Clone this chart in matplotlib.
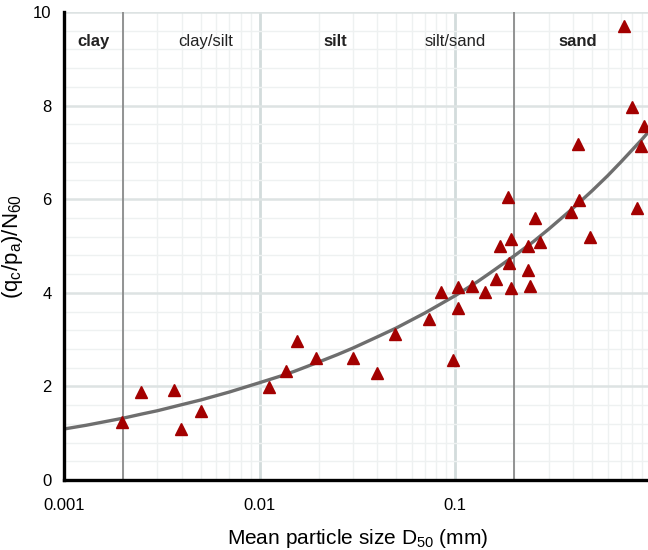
import numpy as np
import matplotlib
matplotlib.use("Agg")
from matplotlib import pyplot as plt
from matplotlib.ticker import FixedLocator, NullFormatter

plt.rcParams['font.family'] = ['Liberation Sans', 'DejaVu Sans']

# measured points: mean particle size D50 (mm) vs (qc/pa)/N60
d50 = [0.00199, 0.00247, 0.00363, 0.00397, 0.00504, 0.0112, 0.0136, 0.0156,
       0.0193, 0.0299, 0.0397, 0.0489, 0.0734, 0.0973, 0.0846, 0.1036, 0.103,
       0.1217, 0.141, 0.162, 0.169, 0.192, 0.188, 0.192, 0.234, 0.241, 0.234,
       0.270, 0.255, 0.186, 0.392, 0.429, 0.424, 0.486, 0.728, 0.803, 0.92,
       0.893, 0.845]
ratio = [1.25, 1.87, 1.93, 1.10, 1.47, 1.99, 2.33, 2.98,
         2.60, 2.60, 2.28, 3.12, 3.45, 2.56, 4.02, 4.12, 3.68,
         4.14, 4.02, 4.29, 5.00, 4.11, 4.64, 5.14, 4.49, 4.15, 5.00,
         5.08, 5.60, 6.05, 5.73, 5.98, 7.18, 5.19, 9.71, 7.98, 7.56,
         7.14, 5.82]

# trend curve
curve_d = [0.001, 0.0013, 0.0015, 0.002, 0.0025, 0.003, 0.004, 0.005, 0.007,
           0.01, 0.013, 0.015, 0.02, 0.025, 0.03, 0.04, 0.05, 0.07,
           0.1, 0.13, 0.15, 0.2, 0.25, 0.3, 0.4, 0.5, 0.6, 0.7, 0.8, 0.9, 1.0]
curve_r = [1.09, 1.17, 1.22, 1.32, 1.41, 1.48, 1.61, 1.71, 1.88,
           2.08, 2.23, 2.32, 2.52, 2.68, 2.82, 3.06, 3.25, 3.57,
           3.94, 4.24, 4.42, 4.79, 5.09, 5.36, 5.81, 6.18, 6.50, 6.79, 7.05, 7.28, 7.50]

zones = ['clay', 'clay/silt', 'silt', 'silt/sand', 'sand']
zone_bold = [True, False, True, False, True]
zone_x = [0.00142, 0.0053, 0.0244, 0.1, 0.424]

fig = plt.figure(figsize=(6.48, 5.5), dpi=100)
ax = fig.add_axes([64/648, 70/550, 587/648, 468/550])

ax.set_xscale('log')
ax.set_xlim(0.001, 1)
ax.set_ylim(0, 10)

# grid
ax.yaxis.set_major_locator(FixedLocator([0, 2, 4, 6, 8, 10]))
ax.yaxis.set_minor_locator(FixedLocator(np.arange(0, 10.01, 0.4)))
ax.xaxis.set_major_locator(FixedLocator([0.001, 0.01, 0.1, 1]))
minors = [m * 10.0**e for e in (-3, -2, -1) for m in range(2, 10)]
ax.xaxis.set_minor_locator(FixedLocator(minors))
ax.xaxis.set_minor_formatter(NullFormatter())
ax.set_xticklabels(['0.001', '0.01', '0.1', '1'])
ax.set_axisbelow(True)
ax.grid(True, which='minor', color='#eef1f1', lw=1.0)
ax.grid(True, which='major', axis='y', color='#dde3e3', lw=1.8)
ax.grid(True, which='major', axis='x', color='#d3dcdc', lw=2.0)
ax.tick_params(which='both', length=0)
ax.tick_params(axis='y', labelsize=12, pad=9)
ax.tick_params(axis='x', labelsize=12, pad=13)

for v in (0.002, 0.2):
    ax.axvline(v, color='#8a8a8a', lw=1.3, zorder=1.5)

for s in ('top', 'right'):
    ax.spines[s].set_visible(False)
ax.spines['left'].set_linewidth(2.4)
ax.spines['bottom'].set_linewidth(2.4)

ax.plot(curve_d, curve_r, color='#6e6e6e', lw=2.4, zorder=2)
ax.plot(d50, ratio, ls='none', marker='^', ms=8, color='#a30000', zorder=3)

for name, b, xz in zip(zones, zone_bold, zone_x):
    ax.text(xz, 9.36, name, ha='center', va='center', fontsize=12,
            fontweight='bold' if b else 'normal', color='#222222')

ax.set_xlabel(r'Mean particle size D$\mathregular{_{50}}$ (mm)', fontsize=15, labelpad=10)
ax.set_ylabel(r'$\mathregular{(q_c/p_a)/N_{60}}$', fontsize=16, labelpad=6)

fig.savefig('out.png', dpi=100)
